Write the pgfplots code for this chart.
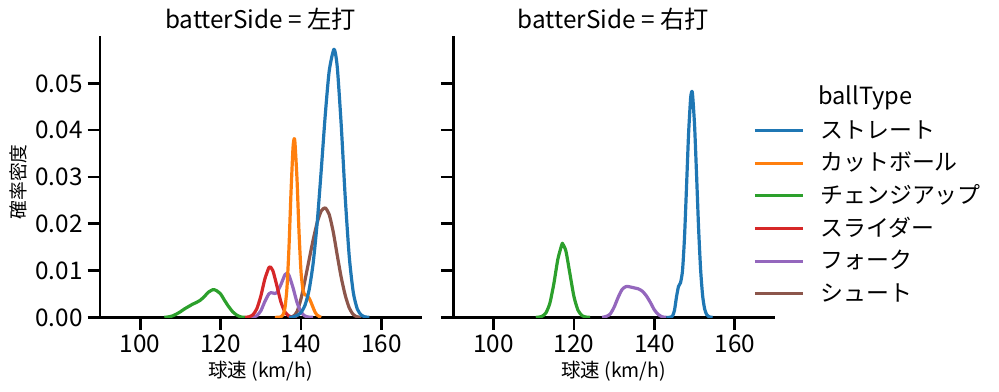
\documentclass[border=0pt]{standalone}
\usepackage{fontspec}
\setmainfont{Noto Sans CJK JP}
\usepackage{pgfplots}
\pgfplotsset{compat=1.18}
\definecolor{c0}{HTML}{1F77B4}
\definecolor{c1}{HTML}{FF7F0E}
\definecolor{c2}{HTML}{2CA02C}
\definecolor{c3}{HTML}{D62728}
\definecolor{c4}{HTML}{9467BD}
\definecolor{c5}{HTML}{8C564B}
\pgfplotsset{
  facet/.style={
    scale only axis, width=231.6pt, height=202.5pt,
    xmin=90, xmax=170, ymin=0, ymax=0.0601,
    axis lines=left, axis line style={-, line width=1.875pt, black},
    x axis line style={-}, y axis line style={-},
    tick align=outside, major tick length=9pt,
    tick style={line width=1.875pt, black},
    xtick={100,120,140,160},
    ytick={0,0.01,0.02,0.03,0.04,0.05},
    tick label style={font=\fontsize{17.5}{19}\selectfont},
    /pgf/number format/assume math mode=true,
    yticklabel style={/pgf/number format/.cd, fixed, fixed zerofill, precision=2},
    scaled y ticks=false,
    clip=true,
  },
  kde/.style={line width=2.3pt, smooth, tension=0.4, line join=round},
}
\begin{document}
\begin{tikzpicture}
\useasboundingbox (0pt,0pt) rectangle (719.28pt,-281.52pt);
% ---------------- left facet ----------------
\begin{axis}[facet, at={(72pt,-228.5pt)}, anchor=south west]
\addplot[c5, kde] coordinates {(137,0) (138,0.0002) (139,0.0012) (140,0.0040) (141,0.0080) (142,0.0123) (143,0.0165) (144,0.0202) (145,0.0227) (146,0.0234) (147,0.0220) (148,0.0183) (149,0.0133) (150,0.0085) (151,0.0047) (152,0.0020) (153,0.0006) (154,0.0001) (155,0)};
\addplot[c4, kde] coordinates {(127,0) (128,0.00005) (129,0.00035) (130,0.0014) (131,0.00338) (132,0.00503) (132.5,0.00528) (133,0.00521) (133.5,0.0051) (134,0.00529) (135,0.00702) (136,0.00912) (136.5,0.00944) (137,0.0090) (138,0.00637) (139,0.00319) (140,0.00113) (141,0.00028) (142,0.00005) (143,0)};
\addplot[c3, kde] coordinates {(126,0) (127,0.00011) (128,0.00053) (129,0.00183) (130,0.00455) (131,0.0082) (132,0.01064) (132.3,0.0108) (133,0.00997) (134,0.00674) (135,0.00328) (136,0.00116) (137,0.00029) (138,0.00005) (139,0)};
\addplot[c2, kde] coordinates {(106,0) (107,0.0001) (108,0.0003) (109,0.0007) (110,0.0012) (111,0.0018) (112,0.0023) (113,0.0028) (114,0.0032) (115,0.0037) (116,0.0045) (117,0.0054) (118,0.0059) (118.5,0.0059) (119,0.0057) (120,0.0050) (121,0.0036) (122,0.0023) (123,0.0012) (124,0.0005) (125,0.0001) (126,0)};
\addplot[c1, kde] coordinates {(133.5,0) (134.5,0.00002) (135,0.0001) (135.5,0.0005) (136,0.0020) (136.5,0.0063) (137,0.0149) (137.5,0.0266) (138,0.0362) (138.3,0.0382) (138.5,0.0372) (139,0.0295) (139.5,0.0182) (140,0.0097) (140.5,0.0058) (141,0.0048) (141.5,0.0047) (142,0.0041) (142.5,0.0032) (143,0.0021) (143.5,0.0011) (144,0.0005) (144.5,0.0002) (145,0)};
\addplot[c0, kde] coordinates {(137,0) (138,0.0001) (139,0.0004) (140,0.00105) (141,0.00263) (142,0.00583) (143,0.01148) (144,0.02006) (145,0.03117) (146,0.04297) (147,0.0526) (148.2,0.0573) (149,0.0536) (150,0.0410) (151,0.0255) (152,0.0129) (153,0.0053) (154,0.00177) (155,0.00048) (156,0.0001) (157,0)};
\end{axis}
% ---------------- right facet ----------------
\begin{axis}[facet, at={(326.4pt,-228.5pt)}, anchor=south west, yticklabels={},
  legend style={draw=none, fill=none, at={(0.9316,0.717)}, anchor=north west,
    inner sep=0pt, column sep=11pt, row sep=0pt,
    font=\fontsize{16.5}{18}\selectfont,
    nodes={inner sep=0pt, text height=16pt, text depth=7.5pt, anchor=base west}},
  legend cell align=left,
  legend image code/.code={\draw[#1] (0pt,5.5pt) -- (35pt,5.5pt);}]
\addlegendimage{c0, line width=2.3pt}\addlegendentry{ストレート}
\addlegendimage{c1, line width=2.3pt}\addlegendentry{カットボール}
\addlegendimage{c2, line width=2.3pt}\addlegendentry{チェンジアップ}
\addlegendimage{c3, line width=2.3pt}\addlegendentry{スライダー}
\addlegendimage{c4, line width=2.3pt}\addlegendentry{フォーク}
\addlegendimage{c5, line width=2.3pt}\addlegendentry{シュート}
\addplot[c4, kde, forget plot] coordinates {(127,0) (128,0.0002) (129,0.0007) (130,0.0022) (131,0.0043) (132,0.0060) (133,0.0066) (134,0.0065) (135,0.0063) (136,0.0061) (137,0.0056) (138,0.0046) (139,0.0032) (140,0.0016) (141,0.0006) (142,0.0001) (143,0)};
\addplot[c2, kde, forget plot] coordinates {(110.5,0) (111,0.00003) (112,0.0002) (113,0.00091) (114,0.00301) (115,0.0072) (116,0.01245) (117,0.0156) (117.2,0.0157) (118,0.01416) (119,0.0093) (120,0.00443) (121,0.00153) (122,0.00038) (123,0.00007) (124,0)};
\addplot[c0, kde, forget plot] coordinates {(143,0) (144,0.00002) (144.5,0.00027) (145,0.0015) (145.5,0.00436) (146,0.0066) (146.5,0.0074) (147,0.0100) (147.5,0.0172) (148,0.0280) (148.5,0.0391) (149,0.0467) (149.3,0.0483) (149.5,0.0476) (150,0.0410) (150.5,0.0303) (151,0.0190) (151.5,0.0102) (152,0.00465) (152.5,0.00181) (153,0.0006) (153.5,0.00017) (154,0.00004) (154.5,0)};
\end{axis}
% ---------------- texts ----------------
\node[anchor=base, font=\fontsize{17.5}{19}\selectfont] at (187.6pt,-20.7pt) {batterSide = 左打};
\node[anchor=base, font=\fontsize{17.5}{19}\selectfont] at (441.7pt,-20.7pt) {batterSide = 右打};
\node[font=\fontsize{14}{16}\selectfont] at (187.6pt,-267pt) {球速 (km/h)};
\node[font=\fontsize{14}{16}\selectfont] at (441.7pt,-267pt) {球速 (km/h)};
\node[rotate=90, font=\fontsize{13.5}{15}\selectfont] at (13pt,-131pt) {確率密度};
\node[font=\fontsize{17}{18}\selectfont] at (623.2pt,-70.1pt) {ballType};
\end{tikzpicture}
\end{document}
